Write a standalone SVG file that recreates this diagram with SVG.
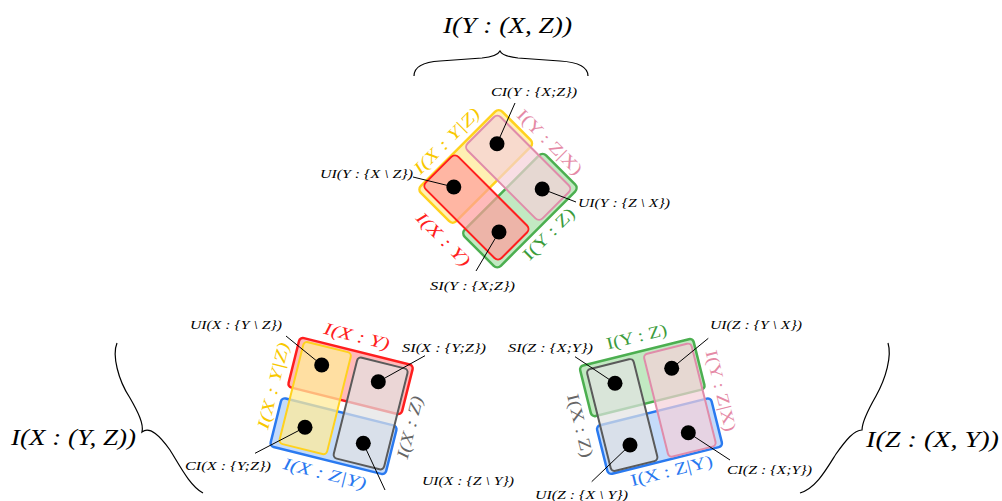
<svg xmlns="http://www.w3.org/2000/svg" width="1002" height="501" viewBox="0 0 1002 501">
<style>
.lbl{font-family:"Liberation Serif",serif;font-style:italic;font-size:11.5px;fill:#000}
.big{font-family:"Liberation Serif",serif;font-style:italic;font-size:24px;fill:#000}
.set{font-family:"Liberation Serif",serif;font-size:17px;text-anchor:middle}
.it{font-style:italic}
.dot{fill:#000}
.lead{stroke:#000;stroke-width:1;fill:none}
.brace{stroke:#000;stroke-width:1.2;fill:none}
.yel{fill:#ffeb99;fill-opacity:.75;stroke:#ffd21e;stroke-width:2.5}
.red{fill:#ff9c9c;fill-opacity:.7;stroke:#ff1e1e;stroke-width:2}
.grn{fill:#a8e0a8;fill-opacity:.7;stroke:#4caf50;stroke-width:2.5}
.pnk{fill:#f5d0d8;fill-opacity:.7;stroke:#e08caa;stroke-width:2}
.blu{fill:#b0cff8;fill-opacity:.75;stroke:#2a7af0;stroke-width:2.5}
.gry{fill:#e2e2e2;fill-opacity:.7;stroke:#5a5a5a;stroke-width:2}
.cy{fill:#f8c800}.cr{fill:#ff2020}.cg{fill:#3c9c3c}.cp{fill:#e58aa6}.cb{fill:#2878f0}.ck{fill:#666}
</style>

<!-- Top diagram: I(Y : (X,Z)) -->
<g id="top-diagram">
  <g transform="translate(498,188) rotate(-45)">
    <rect id="top-yellow" class="yel" x="-58" y="-56" width="115" height="50" rx="5"/>
    <rect id="top-green" class="grn" x="-58" y="6" width="115" height="51" rx="5"/>
    <rect id="top-red" class="red" x="-52" y="-55" width="46" height="107" rx="5"/>
    <rect id="top-pink" class="pnk" x="5" y="-53" width="47" height="106" rx="5"/>
    <text class="set it cy" x="-3" y="-64" textLength="86" lengthAdjust="spacingAndGlyphs">I(X : Y|Z)</text>
    <text class="set cg" x="3.5" y="74" textLength="66" lengthAdjust="spacingAndGlyphs">I(Y : Z)</text>
    <text class="set cp" transform="translate(63.5,4) rotate(90)" textLength="85" lengthAdjust="spacingAndGlyphs">I(Y : Z|X)</text>
    <text class="set it cr" transform="translate(-80.5,-2.5) rotate(90)" textLength="69" lengthAdjust="spacingAndGlyphs">I(X : Y)</text>
  </g>
</g>

<!-- Bottom-left diagram: I(X : (Y,Z)) -->
<g id="left-diagram">
  <g transform="translate(342,404.3) rotate(14)">
    <rect id="left-red" class="red" x="-57" y="-55" width="117" height="51" rx="4" style="stroke-width:2.5"/>
    <rect id="left-blue" class="blu" x="-60" y="8" width="119" height="50" rx="4"/>
    <rect id="left-yellow" class="yel" x="-52" y="-52" width="49" height="105" rx="4" style="stroke-width:2"/>
    <rect id="left-gray" class="gry" x="4" y="-50" width="52" height="104" rx="4"/>
    <text class="set it cr" x="-2" y="-64" textLength="67" lengthAdjust="spacingAndGlyphs">I(X : Y)</text>
    <text class="set it cb" x="0" y="77" textLength="85" lengthAdjust="spacingAndGlyphs">I(X : Z|Y)</text>
    <text class="set it cy" transform="translate(-65.6,-1.3) rotate(-90)" textLength="89" lengthAdjust="spacingAndGlyphs">I(X : Y|Z)</text>
    <text class="set it ck" transform="translate(77,6) rotate(-90)" textLength="64" lengthAdjust="spacingAndGlyphs">I(X : Z)</text>
  </g>
</g>

<!-- Bottom-right diagram: I(Z : (X,Y)) -->
<g id="right-diagram">
  <g transform="translate(651.25,407.3) rotate(-14)">
    <rect id="right-green" class="grn" x="-60" y="-57" width="117" height="52" rx="4"/>
    <rect id="right-blue" class="blu" x="-58" y="5" width="118" height="50" rx="4"/>
    <rect id="right-gray" class="gry" x="-54" y="-52" width="48" height="105" rx="4"/>
    <rect id="right-pink" class="pnk" x="5" y="-53" width="49" height="106" rx="4"/>
    <text class="set cg" x="3" y="-66.5" textLength="62" lengthAdjust="spacingAndGlyphs">I(Y : Z)</text>
    <text class="set cb" x="4.4" y="72" textLength="84" lengthAdjust="spacingAndGlyphs">I(X : Z|Y)</text>
    <text class="set ck" transform="translate(-79,0.7) rotate(90)" textLength="65" lengthAdjust="spacingAndGlyphs">I(X : Z)</text>
    <text class="set cp" transform="translate(66,0.8) rotate(90)" textLength="83" lengthAdjust="spacingAndGlyphs">I(Y : Z|X)</text>
  </g>
</g>

<!-- Connectors (leader lines and braces) -->
<g id="connectors">
  <line class="lead" x1="515" y1="103" x2="497" y2="143.8"/>
  <line class="lead" x1="413" y1="177" x2="453.8" y2="187"/>
  <line class="lead" x1="542.2" y1="189" x2="576" y2="202"/>
  <line class="lead" x1="499" y1="232" x2="476" y2="271"/>
  <line class="lead" x1="286" y1="336" x2="321.7" y2="365"/>
  <line class="lead" x1="425" y1="355.7" x2="378.3" y2="381.7"/>
  <line class="lead" x1="255" y1="453.3" x2="305" y2="427.3"/>
  <line class="lead" x1="363.3" y1="443.3" x2="385" y2="490"/>
  <line class="lead" x1="575" y1="356.7" x2="615" y2="383.3"/>
  <line class="lead" x1="708.3" y1="338.3" x2="671.7" y2="368.3"/>
  <line class="lead" x1="591.7" y1="481.7" x2="630" y2="445"/>
  <line class="lead" x1="688.3" y1="432.7" x2="730" y2="460"/>
  <path class="brace" d="M414,76 C414,66 424,62 440,61 L482,58 C492,57 498,55 500,51 C502,55 508,57 518,58 L560,61 C576,62 588,66 588,76"/>
  <path class="brace" d="M117,343 C112,355 118,380 130,398 C138,412 144,424 142,432 C150,426 160,436 170,450 C180,466 190,486 203,493"/>
  <path class="brace" d="M888,343 C892,356 886,378 876,396 C868,410 862,424 862,430 C854,430 846,440 836,454 C826,470 816,488 800,493"/>
</g>

<!-- Atoms (dots) -->
<g id="atoms">
  <circle class="dot" cx="497" cy="143.8" r="7.5"/>
  <circle class="dot" cx="453.8" cy="187" r="7.5"/>
  <circle class="dot" cx="542.2" cy="189" r="7.5"/>
  <circle class="dot" cx="499" cy="232" r="7.5"/>
  <circle class="dot" cx="321.7" cy="365" r="7.5"/>
  <circle class="dot" cx="378.3" cy="381.7" r="7.5"/>
  <circle class="dot" cx="305" cy="427.3" r="7.5"/>
  <circle class="dot" cx="363.3" cy="443.3" r="7.5"/>
  <circle class="dot" cx="615" cy="383.3" r="7.5"/>
  <circle class="dot" cx="671.7" cy="368.3" r="7.5"/>
  <circle class="dot" cx="630" cy="445" r="7.5"/>
  <circle class="dot" cx="688.3" cy="432.7" r="7.5"/>
</g>

<!-- Labels -->
<g id="labels">
  <text class="big" x="443" y="33" textLength="129" lengthAdjust="spacingAndGlyphs">I(Y : (X, Z))</text>
  <text class="big" x="11" y="445" textLength="125" lengthAdjust="spacingAndGlyphs">I(X : (Y, Z))</text>
  <text class="big" x="866" y="447" textLength="133" lengthAdjust="spacingAndGlyphs">I(Z : (X, Y))</text>
  <text class="lbl" x="491" y="96" textLength="86" lengthAdjust="spacingAndGlyphs">CI(Y : {X;Z})</text>
  <text class="lbl" x="320" y="178" textLength="93" lengthAdjust="spacingAndGlyphs">UI(Y : {X \ Z})</text>
  <text class="lbl" x="578" y="207" textLength="92" lengthAdjust="spacingAndGlyphs">UI(Y : {Z \ X})</text>
  <text class="lbl" x="430" y="290" textLength="85" lengthAdjust="spacingAndGlyphs">SI(Y : {X;Z})</text>
  <text class="lbl" x="190" y="329" textLength="92" lengthAdjust="spacingAndGlyphs">UI(X : {Y \ Z})</text>
  <text class="lbl" x="402" y="352" textLength="84" lengthAdjust="spacingAndGlyphs">SI(X : {Y;Z})</text>
  <text class="lbl" x="185" y="470" textLength="86" lengthAdjust="spacingAndGlyphs">CI(X : {Y;Z})</text>
  <text class="lbl" x="422" y="485" textLength="92" lengthAdjust="spacingAndGlyphs">UI(X : {Z \ Y})</text>
  <text class="lbl" x="508" y="352" textLength="85" lengthAdjust="spacingAndGlyphs">SI(Z : {X;Y})</text>
  <text class="lbl" x="710" y="329" textLength="92" lengthAdjust="spacingAndGlyphs">UI(Z : {Y \ X})</text>
  <text class="lbl" x="535" y="499" textLength="93" lengthAdjust="spacingAndGlyphs">UI(Z : {X \ Y})</text>
  <text class="lbl" x="727" y="474" textLength="85" lengthAdjust="spacingAndGlyphs">CI(Z : {X;Y})</text>
</g>
</svg>
